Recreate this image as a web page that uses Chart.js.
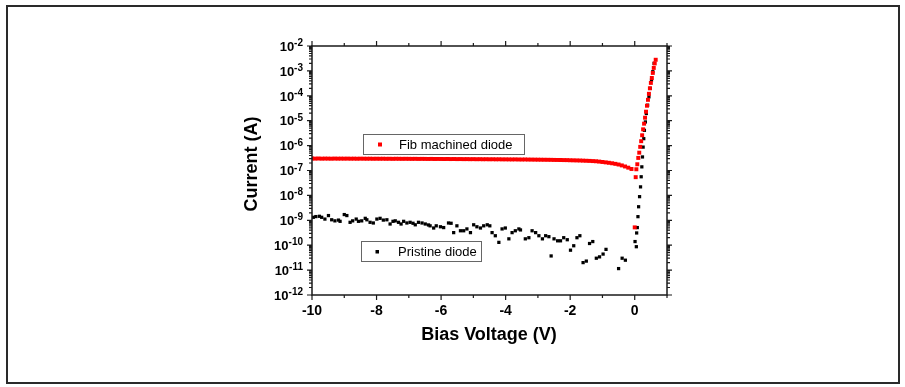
<!DOCTYPE html>
<html>
<head>
<meta charset="utf-8">
<script src="https://cdn.jsdelivr.net/npm/chart.js@4"></script>
<style>
  body { margin: 0; background: #fff; }
  canvas { display: block; }
</style>
</head>
<body>
<canvas id="ivChart" width="905" height="387"></canvas>
<script>
// Fib machined diode (red)
var fibV = [
  -10.0,-9.9,-9.8,-9.7,-9.6,-9.5,-9.4,-9.3,-9.2,-9.1,
  -9.0,-8.9,-8.8,-8.7,-8.6,-8.5,-8.4,-8.3,-8.2,-8.1,
  -8.0,-7.9,-7.8,-7.7,-7.6,-7.5,-7.4,-7.3,-7.2,-7.1,
  -7.0,-6.9,-6.8,-6.7,-6.6,-6.5,-6.4,-6.3,-6.2,-6.1,
  -6.0,-5.9,-5.8,-5.7,-5.6,-5.5,-5.4,-5.3,-5.2,-5.1,
  -5.0,-4.9,-4.8,-4.7,-4.6,-4.5,-4.4,-4.3,-4.2,-4.1,
  -4.0,-3.9,-3.8,-3.7,-3.6,-3.5,-3.4,-3.3,-3.2,-3.1,
  -3.0,-2.9,-2.8,-2.7,-2.6,-2.5,-2.4,-2.3,-2.2,-2.1,
  -2.0,-1.9,-1.8,-1.7,-1.6,-1.5,-1.4,-1.3,-1.2,-1.1,
  -1.0,-0.9,-0.8,-0.7,-0.6,-0.5,-0.4,-0.3,-0.2,-0.1,
  0.0,0.03,0.05,0.08,0.11,0.14,0.17,0.20,0.23,0.26,0.29,0.32,
  0.35,0.38,0.41,0.44,0.47,0.50,0.53,0.56,0.59,0.62,0.65
];
var fibI = [
  3.02e-7,3.00e-7,3.03e-7,2.99e-7,3.01e-7,3.00e-7,2.98e-7,3.01e-7,2.99e-7,3.00e-7,
  2.99e-7,3.00e-7,2.98e-7,2.99e-7,2.97e-7,2.99e-7,2.98e-7,2.97e-7,2.98e-7,2.96e-7,
  2.97e-7,2.96e-7,2.97e-7,2.95e-7,2.96e-7,2.94e-7,2.96e-7,2.95e-7,2.94e-7,2.95e-7,
  2.94e-7,2.93e-7,2.94e-7,2.92e-7,2.93e-7,2.92e-7,2.91e-7,2.92e-7,2.90e-7,2.91e-7,
  2.90e-7,2.89e-7,2.90e-7,2.88e-7,2.89e-7,2.87e-7,2.88e-7,2.86e-7,2.87e-7,2.85e-7,
  2.86e-7,2.84e-7,2.85e-7,2.83e-7,2.84e-7,2.82e-7,2.83e-7,2.81e-7,2.82e-7,2.80e-7,
  2.80e-7,2.79e-7,2.78e-7,2.79e-7,2.77e-7,2.76e-7,2.77e-7,2.75e-7,2.74e-7,2.73e-7,
  2.72e-7,2.71e-7,2.70e-7,2.69e-7,2.68e-7,2.66e-7,2.65e-7,2.64e-7,2.62e-7,2.61e-7,
  2.58e-7,2.56e-7,2.54e-7,2.52e-7,2.49e-7,2.46e-7,2.43e-7,2.39e-7,2.35e-7,2.28e-7,
  2.20e-7,2.12e-7,2.04e-7,1.95e-7,1.85e-7,1.74e-7,1.60e-7,1.45e-7,1.30e-7,1.15e-7,
  5.2e-10,5.4e-8,1.12e-7,1.78e-7,3.2e-7,5.2e-7,8.9e-7,1.5e-6,2.6e-6,4.5e-6,7.6e-6,1.32e-5,
  2.3e-5,4.0e-5,6.9e-5,1.2e-4,2.0e-4,3.3e-4,5.2e-4,8.3e-4,1.32e-3,2.0e-3,2.8e-3
];

// Pristine diode (black)
var priV = [
  -9.96,-9.88,-9.77,-9.70,-9.60,-9.49,-9.39,-9.29,-9.18,-9.13,
  -9.00,-8.92,-8.82,-8.74,-8.63,-8.56,-8.46,-8.35,-8.30,-8.20,
  -8.10,-7.99,-7.89,-7.79,-7.68,-7.58,-7.49,-7.42,-7.32,-7.24,
  -7.16,-7.06,-6.96,-6.87,-6.80,-6.70,-6.59,-6.49,-6.39,-6.34,
  -6.23,-6.15,-6.02,-5.92,-5.77,-5.69,-5.61,-5.51,-5.40,-5.30,
  -5.20,-5.09,-4.99,-4.89,-4.78,-4.68,-4.57,-4.49,-4.42,-4.32,
  -4.21,-4.11,-4.01,-3.90,-3.80,-3.70,-3.59,-3.54,-3.39,-3.28,
  -3.18,-3.07,-2.97,-2.86,-2.76,-2.66,-2.59,-2.50,-2.39,-2.30,
  -2.20,-2.09,-1.99,-1.89,-1.79,-1.70,-1.60,-1.50,-1.40,-1.30,
  -1.19,-1.09,-0.98,-0.89,-0.50,-0.39,-0.29,
  0.01,0.05,0.06,0.08,0.10,0.12,0.15,0.18,0.20,0.22,0.24,
  0.26,0.28,0.30,0.33,0.36,0.40,0.44,0.48,0.52,0.56,0.60
];
var priI = [
  1.32e-9,1.41e-9,1.45e-9,1.32e-9,1.12e-9,1.55e-9,1.05e-9,9.5e-10,1.02e-9,9.1e-10,
  1.70e-9,1.55e-9,8.3e-10,9.5e-10,1.12e-9,9.1e-10,9.5e-10,1.20e-9,1.05e-9,8.3e-10,
  7.8e-10,1.12e-9,1.20e-9,1.02e-9,1.05e-9,7.1e-10,9.1e-10,9.5e-10,8.3e-10,7.1e-10,
  9.1e-10,7.8e-10,8.3e-10,7.6e-10,6.6e-10,8.3e-10,7.8e-10,7.1e-10,6.5e-10,6.0e-10,
  4.9e-10,6.0e-10,5.5e-10,5.1e-10,7.8e-10,7.6e-10,3.2e-10,6.0e-10,3.8e-10,3.8e-10,
  4.5e-10,3.2e-10,6.6e-10,5.5e-10,4.9e-10,6.0e-10,6.6e-10,6.0e-10,3.2e-10,2.4e-10,
  1.3e-10,4.5e-10,4.9e-10,1.8e-10,3.2e-10,3.8e-10,4.5e-10,4.1e-10,1.8e-10,2.0e-10,
  3.8e-10,3.2e-10,2.4e-10,1.8e-10,2.4e-10,2.2e-10,3.7e-11,1.8e-10,1.5e-10,1.5e-10,
  2.0e-10,1.66e-10,6.3e-11,9.5e-11,2.0e-10,2.4e-10,2.0e-11,2.3e-11,1.17e-10,1.4e-10,
  3.0e-11,3.4e-11,4.4e-11,6.8e-11,1.15e-11,3.0e-11,2.5e-11,
  1.4e-10,8.7e-11,3.1e-10,5.1e-10,1.4e-9,3.5e-9,8.9e-9,2.2e-8,5.6e-8,1.4e-7,3.5e-7,
  8.7e-7,1.9e-6,4.1e-6,8.9e-6,1.95e-5,4.2e-5,9.1e-5,2.0e-4,4.3e-4,9.3e-4,2.0e-3
];

var yDecades = [-12,-11,-10,-9,-8,-7,-6,-5,-4,-3,-2];
var legendFib = 'Fib machined diode';
var legendPri = 'Pristine diode';
var xTitle = 'Bias Voltage (V)';
var yTitle = 'Current (A)';

var FONT = "'Liberation Sans', Arial, sans-serif";

function toPoints(xs, ys) {
    return xs.map(function (v, i) { return {x: v, y: ys[i]}; });
}

// frame, ticks, labels, legends drawn on top of the library scales
var decorPlugin = {
    id: 'decor',
    beforeDraw: function (chart) {
        var ctx = chart.ctx;
        ctx.save();
        ctx.strokeStyle = '#2a2a2a';
        ctx.lineWidth = 2;
        ctx.strokeRect(7, 6, 892, 377);
        ctx.restore();
    },
    afterDatasetsDraw: function (chart) {
        var ctx = chart.ctx, a = chart.chartArea;
        var xs = chart.scales.x, ys = chart.scales.y;
        ctx.save();
        ctx.strokeStyle = '#1a1a1a';
        ctx.lineWidth = 1.5;
        ctx.strokeRect(a.left, a.top, a.right - a.left, a.bottom - a.top);

        ctx.lineWidth = 1.2;
        ctx.beginPath();
        xs.ticks.forEach(function (t) {
            var px = xs.getPixelForValue(t.value);
            var len = (t.value % 2 === 0) ? 5 : 3;
            ctx.moveTo(px, a.bottom); ctx.lineTo(px, a.bottom + len);
            ctx.moveTo(px, a.top); ctx.lineTo(px, a.top - len);
        });
        yDecades.forEach(function (e) {
            for (var m = 1; m <= 9; m++) {
                if (e === yDecades[yDecades.length - 1] && m > 1) break;
                var py = ys.getPixelForValue(m * Math.pow(10, e));
                var len = m === 1 ? 5 : 3;
                ctx.moveTo(a.left, py); ctx.lineTo(a.left - len, py);
                ctx.moveTo(a.right, py); ctx.lineTo(a.right + len, py);
            }
        });
        ctx.stroke();

        // y tick labels 10^n
        ctx.fillStyle = '#000';
        ctx.textBaseline = 'alphabetic';
        ctx.textAlign = 'left';
        yDecades.forEach(function (e) {
            var py = ys.getPixelForValue(Math.pow(10, e));
            ctx.font = 'bold 10px ' + FONT;
            var ew = ctx.measureText(String(e)).width;
            ctx.font = 'bold 13px ' + FONT;
            var bw = ctx.measureText('10').width;
            var right = a.left - 9;
            ctx.fillText('10', right - ew - bw, py + 4.7);
            ctx.font = 'bold 10px ' + FONT;
            ctx.fillText(String(e), right - ew, py);
        });

        // axis titles
        ctx.font = 'bold 18px ' + FONT;
        ctx.textAlign = 'center';
        ctx.fillText(xTitle, 489, 340);
        ctx.save();
        ctx.translate(257, 164);
        ctx.rotate(-Math.PI / 2);
        ctx.fillText(yTitle, 0, 0);
        ctx.restore();

        // legend boxes
        ctx.lineWidth = 1;
        ctx.strokeStyle = '#666';
        ctx.fillStyle = '#fff';
        ctx.fillRect(363.5, 134.5, 161, 20);
        ctx.strokeRect(363.5, 134.5, 161, 20);
        ctx.fillRect(361.5, 241.5, 120, 20);
        ctx.strokeRect(361.5, 241.5, 120, 20);
        ctx.fillStyle = '#ff0000';
        ctx.fillRect(378, 142.5, 4, 4);
        ctx.fillStyle = '#000';
        ctx.fillRect(375.5, 250, 3.5, 3.5);
        ctx.font = '13px ' + FONT;
        ctx.textAlign = 'left';
        ctx.fillText(legendFib, 399, 149);
        ctx.fillText(legendPri, 398, 256);
        ctx.restore();
    }
};

var ctxIV = document.getElementById('ivChart').getContext('2d');
new Chart(ctxIV, {
    type: 'scatter',
    data: {
        datasets: [
            {
                label: legendFib,
                data: toPoints(fibV, fibI),
                backgroundColor: '#ff0000',
                borderWidth: 0,
                pointStyle: 'rect',
                pointRadius: 2.8
            },
            {
                label: legendPri,
                data: toPoints(priV, priI),
                backgroundColor: '#000000',
                borderWidth: 0,
                pointStyle: 'rect',
                pointRadius: 2.3
            }
        ]
    },
    options: {
        responsive: false,
        animation: false,
        events: [],
        layout: { padding: { left: 0, top: 46, right: 238, bottom: 0 } },
        plugins: {
            legend: { display: false },
            tooltip: { enabled: false }
        },
        scales: {
            x: {
                type: 'linear',
                min: -10,
                max: 1,
                border: { display: false },
                grid: { display: true, drawOnChartArea: false, color: 'rgba(0,0,0,0)', tickLength: 5 },
                ticks: {
                    stepSize: 1,
                    autoSkip: false,
                    maxRotation: 0,
                    padding: 3,
                    color: '#000',
                    font: { family: FONT, size: 14, weight: 'bold' },
                    callback: function (v) { return v % 2 === 0 ? String(v) : ''; }
                },
                afterFit: function (s) { s.height = 92; }
            },
            y: {
                type: 'logarithmic',
                min: 1e-12,
                max: 1e-2,
                border: { display: false },
                grid: { display: false },
                ticks: { display: false },
                afterFit: function (s) { s.width = 312; }
            }
        }
    },
    plugins: [decorPlugin]
});
</script>
</body>
</html>
